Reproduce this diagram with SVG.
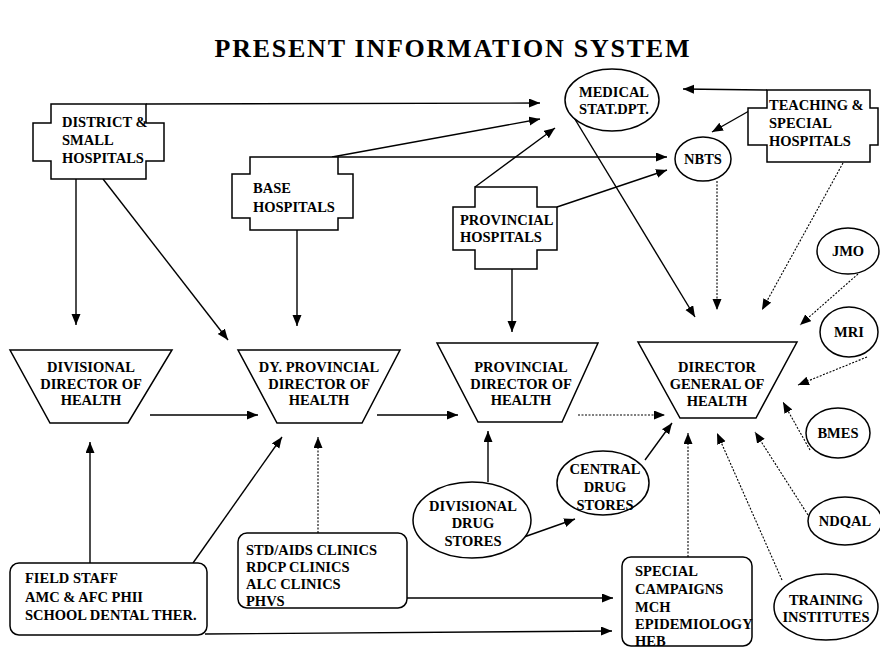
<svg xmlns="http://www.w3.org/2000/svg" width="880" height="648" viewBox="0 0 880 648">
  <style>
    .box { fill: #fff; stroke: #000; stroke-width: 1.5; }
    .lbl { font-family: "Liberation Serif", "Times New Roman", serif; font-weight: bold; font-size: 14.5px; fill: #000; }
    .mid { text-anchor: middle; }
    .title { font-family: "Liberation Serif", "Times New Roman", serif; font-weight: bold; font-size: 26px; fill: #000; }
    .solid { fill: none; stroke: #000; stroke-width: 1.4; marker-end: url(#arr); }
    .dot { fill: none; stroke: #000; stroke-width: 1.1; stroke-dasharray: 2 1.5; marker-end: url(#arr); }
  </style>
  <defs>
    <marker id="arr" markerUnits="userSpaceOnUse" markerWidth="12" markerHeight="10" refX="11" refY="4.5" orient="auto">
      <path d="M0,0 L11,4.5 L0,9 Z" fill="#000"/>
    </marker>
  </defs>

  <rect width="880" height="648" fill="#fff"/>

  <text class="title mid" x="452" y="57" textLength="475" lengthAdjust="spacing">PRESENT  INFORMATION  SYSTEM</text>

  <!-- connectors -->
  <g id="connectors">
    <!-- into Medical Stat. Dpt. -->
    <line class="solid" x1="146" y1="104" x2="540" y2="103"/>
    <line class="solid" x1="332" y1="157" x2="540" y2="119"/>
    <line class="solid" x1="475" y1="187" x2="555" y2="128"/>
    <line class="solid" x1="767" y1="90" x2="683" y2="89"/>
    <!-- into NBTS -->
    <line class="solid" x1="338" y1="157" x2="667" y2="157"/>
    <line class="solid" x1="557" y1="207" x2="667" y2="170"/>
    <line class="solid" x1="749" y1="111" x2="712" y2="132"/>
    <!-- hospitals down to directors -->
    <line class="solid" x1="76" y1="179" x2="76" y2="325"/>
    <line class="solid" x1="103" y1="179" x2="228" y2="340"/>
    <line class="solid" x1="297" y1="230" x2="297" y2="326"/>
    <line class="solid" x1="512" y1="269" x2="512" y2="332"/>
    <!-- into Director General of Health -->
    <line class="solid" x1="573" y1="116" x2="695" y2="317"/>
    <line class="dot" x1="717" y1="181" x2="717" y2="310"/>
    <line class="dot" x1="843" y1="163" x2="762" y2="310"/>
    <line class="dot" x1="858" y1="274" x2="800" y2="325"/>
    <line class="dot" x1="867" y1="357" x2="798" y2="385"/>
    <line class="dot" x1="810" y1="450" x2="783" y2="402"/>
    <line class="dot" x1="808" y1="515" x2="755" y2="432"/>
    <line class="dot" x1="782" y1="580" x2="717" y2="433"/>
    <line class="dot" x1="688" y1="557" x2="688" y2="433"/>
    <line class="solid" x1="645" y1="460" x2="672" y2="423"/>
    <!-- along the director row -->
    <line class="solid" x1="150" y1="415" x2="258" y2="415"/>
    <line class="solid" x1="377" y1="415" x2="458" y2="415"/>
    <line class="dot" x1="578" y1="415" x2="665" y2="415"/>
    <!-- drug stores -->
    <line class="solid" x1="488" y1="482" x2="488" y2="431"/>
    <line class="solid" x1="524" y1="537" x2="575" y2="519"/>
    <!-- field staff and clinics -->
    <line class="solid" x1="90" y1="563" x2="90" y2="442"/>
    <line class="solid" x1="193" y1="563" x2="282" y2="437"/>
    <line class="dot" x1="318" y1="533" x2="318" y2="437"/>
    <line class="solid" x1="407" y1="598" x2="613" y2="598"/>
    <line class="solid" x1="205" y1="634" x2="612" y2="631"/>
  </g>

  <!-- hospitals (cross shaped) -->
  <g id="district-hospitals">
    <path class="box" d="M51,104 H146 V123 H164 V161 H146 V179 H51 V161 H33 V123 H51 Z"/>
    <text class="lbl" x="62" y="127">DISTRICT &amp;</text>
    <text class="lbl" x="62" y="145">SMALL</text>
    <text class="lbl" x="62" y="163">HOSPITALS</text>
  </g>
  <g id="base-hospitals">
    <path class="box" d="M250,157 H338 V174 H353 V218 H338 V230 H250 V218 H232 V174 H250 Z"/>
    <text class="lbl" x="253" y="193">BASE</text>
    <text class="lbl" x="253" y="212">HOSPITALS</text>
  </g>
  <g id="provincial-hospitals">
    <path class="box" d="M475,187 H537 V207 H557 V250 H537 V269 H475 V250 H453 V207 H475 Z"/>
    <text class="lbl" x="460" y="225">PROVINCIAL</text>
    <text class="lbl" x="460" y="242">HOSPITALS</text>
  </g>
  <g id="teaching-hospitals">
    <path class="box" d="M767,90 H870 V108 H878 V145 H870 V162 H767 V145 H748 V108 H767 Z"/>
    <text class="lbl" x="769" y="110">TEACHING &amp;</text>
    <text class="lbl" x="769" y="128">SPECIAL</text>
    <text class="lbl" x="769" y="146">HOSPITALS</text>
  </g>

  <!-- ellipses -->
  <g id="medical-stat">
    <ellipse class="box" cx="612" cy="100" rx="47" ry="31"/>
    <text class="lbl mid" x="614" y="97">MEDICAL</text>
    <text class="lbl mid" x="614" y="114">STAT.DPT.</text>
  </g>
  <g id="nbts">
    <ellipse class="box" cx="703" cy="159" rx="28" ry="22"/>
    <text class="lbl mid" x="703" y="164">NBTS</text>
  </g>
  <g id="jmo">
    <ellipse class="box" cx="848" cy="251" rx="31" ry="23"/>
    <text class="lbl mid" x="848" y="256">JMO</text>
  </g>
  <g id="mri">
    <ellipse class="box" cx="849" cy="332" rx="29" ry="25"/>
    <text class="lbl mid" x="849" y="337">MRI</text>
  </g>
  <g id="bmes">
    <ellipse class="box" cx="838" cy="433" rx="32" ry="25"/>
    <text class="lbl mid" x="838" y="438">BMES</text>
  </g>
  <g id="ndqal">
    <ellipse class="box" cx="845" cy="521" rx="37" ry="24"/>
    <text class="lbl mid" x="845" y="526">NDQAL</text>
  </g>
  <g id="training-institutes">
    <ellipse class="box" cx="826" cy="607" rx="52" ry="33"/>
    <text class="lbl mid" x="826" y="605">TRAINING</text>
    <text class="lbl mid" x="826" y="622">INSTITUTES</text>
  </g>
  <g id="central-drug-stores">
    <ellipse class="box" cx="603" cy="483" rx="46" ry="32"/>
    <text class="lbl mid" x="605" y="474">CENTRAL</text>
    <text class="lbl mid" x="605" y="492">DRUG</text>
    <text class="lbl mid" x="605" y="510">STORES</text>
  </g>
  <g id="divisional-drug-stores">
    <ellipse class="box" cx="472" cy="520" rx="59" ry="38"/>
    <text class="lbl mid" x="473" y="511">DIVISIONAL</text>
    <text class="lbl mid" x="473" y="528">DRUG</text>
    <text class="lbl mid" x="473" y="546">STORES</text>
  </g>

  <!-- directors (trapezoids) -->
  <g id="divisional-director">
    <path class="box" d="M10,350 H172 L128,423 H50 Z"/>
    <text class="lbl mid" x="91" y="372">DIVISIONAL</text>
    <text class="lbl mid" x="91" y="389">DIRECTOR OF</text>
    <text class="lbl mid" x="91" y="405">HEALTH</text>
  </g>
  <g id="dy-provincial-director">
    <path class="box" d="M238,350 H400 L362,423 H277 Z"/>
    <text class="lbl mid" x="319" y="372">DY. PROVINCIAL</text>
    <text class="lbl mid" x="319" y="389">DIRECTOR OF</text>
    <text class="lbl mid" x="319" y="405">HEALTH</text>
  </g>
  <g id="provincial-director">
    <path class="box" d="M437,343 H598 L562,422 H478 Z"/>
    <text class="lbl mid" x="521" y="372">PROVINCIAL</text>
    <text class="lbl mid" x="521" y="389">DIRECTOR OF</text>
    <text class="lbl mid" x="521" y="405">HEALTH</text>
  </g>
  <g id="director-general">
    <path class="box" d="M638,342 H797 L756,418 H680 Z"/>
    <text class="lbl mid" x="717" y="372">DIRECTOR</text>
    <text class="lbl mid" x="717" y="389">GENERAL OF</text>
    <text class="lbl mid" x="717" y="406">HEALTH</text>
  </g>

  <!-- rounded boxes -->
  <g id="field-staff">
    <rect class="box" x="10" y="563" width="197" height="72" rx="9"/>
    <text class="lbl" x="25" y="583">FIELD STAFF</text>
    <text class="lbl" x="25" y="602">AMC &amp; AFC PHII</text>
    <text class="lbl" x="25" y="620">SCHOOL DENTAL THER.</text>
  </g>
  <g id="clinics">
    <rect class="box" x="238" y="533" width="169" height="75" rx="9"/>
    <text class="lbl" x="246" y="555">STD/AIDS CLINICS</text>
    <text class="lbl" x="246" y="572">RDCP CLINICS</text>
    <text class="lbl" x="246" y="589">ALC CLINICS</text>
    <text class="lbl" x="246" y="606">PHVS</text>
  </g>
  <g id="special-campaigns">
    <rect class="box" x="622" y="557" width="130" height="89" rx="9"/>
    <text class="lbl" x="635" y="576">SPECIAL</text>
    <text class="lbl" x="635" y="594">CAMPAIGNS</text>
    <text class="lbl" x="635" y="612">MCH</text>
    <text class="lbl" x="635" y="629">EPIDEMIOLOGY</text>
    <text class="lbl" x="635" y="646">HEB</text>
  </g>
</svg>
